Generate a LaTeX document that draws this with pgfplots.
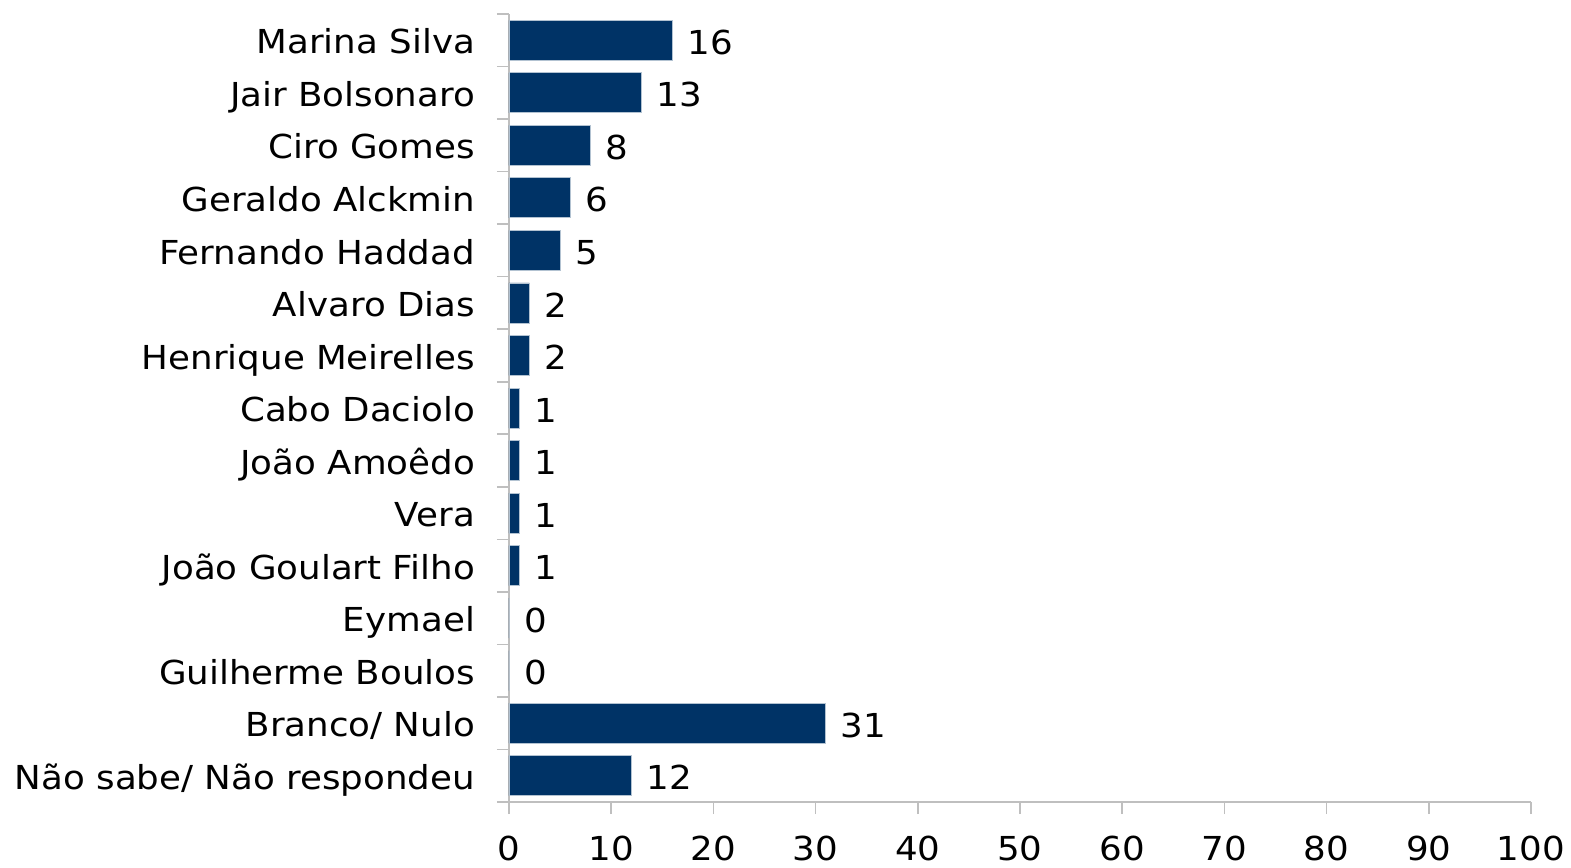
\documentclass[border=0pt]{standalone}
\usepackage{pgfplots}
\pgfplotsset{compat=1.18}
\usepackage{fontspec}
\setmainfont[FakeStretch=1.08]{DejaVu Sans}
\definecolor{barblue}{HTML}{003366}
\definecolor{axgray}{HTML}{BFBFBF}
\begin{document}
\begin{tikzpicture}
\useasboundingbox (-254.5pt,-33pt) rectangle (531pt,401pt);
\begin{axis}[
  at={(0,0)}, anchor=south west,
  scale only axis, width=511pt, height=394pt,
  xbar, bar width=20pt,
  xmin=0, xmax=100, ymin=-0.5, ymax=14.5,
  y dir=reverse,
  axis x line*=bottom, axis y line*=left,
  axis line style={axgray, line width=0.8pt},
  xtick={0,10,...,100},
  ytick={-0.5,0.5,...,14.5},
  yticklabels={},
  extra y ticks={0,...,14},
  extra y tick labels={Marina Silva,Jair Bolsonaro,Ciro Gomes,Geraldo Alckmin,Fernando Haddad,Alvaro Dias,Henrique Meirelles,Cabo Daciolo,João Amoêdo,Vera,João Goulart Filho,Eymael,Guilherme Boulos,Branco/ Nulo,Não sabe/ Não respondeu},
  extra y tick style={major tick length=0pt, tick style={draw=none}, yticklabel style={anchor=base east, xshift=-13.5pt, yshift=-6.8pt}},
  tick align=outside,
  major tick length=6pt,
  tick style={axgray, line width=0.8pt},
  every tick label/.style={font=\fontsize{16.5}{19}\selectfont, text=black},
  /pgf/number format/assume math mode=true,
  xticklabel style={yshift=-7.5pt},
  nodes near coords,
  every node near coord/.append style={font=\fontsize{16.5}{19}\selectfont, text=black, xshift=4pt, yshift=-1pt},
  clip=false,
]
\addplot[fill=barblue, draw=white!70!barblue, line width=0.4pt] coordinates {
(16,0) (13,1) (8,2) (6,3) (5,4) (2,5) (2,6) (1,7) (1,8) (1,9) (1,10) (0,11) (0,12) (31,13) (12,14)
};
\end{axis}
\end{tikzpicture}
\end{document}
